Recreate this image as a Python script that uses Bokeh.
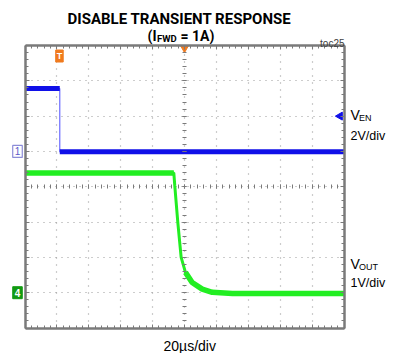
from bokeh.plotting import figure
from bokeh.models import Range1d, LinearAxis, FixedTicker, Label, Grid
from bokeh.embed import file_html
from bokeh.resources import INLINE

# ---------------- data (read from the scope shot) ----------------
en_time_us = [0, 21.8, 21.8, 200]
en_volts = [3.56, 3.56, -0.02, -0.02]

out_time_us = [0, 93.3, 93.9, 95.8, 97.9, 100.6, 104.8, 111.1, 117.4, 130, 200]
out_volts = [3.39, 3.39, 3.03, 1.99, 1.0, 0.575, 0.29, 0.10, 0.01, -0.02, -0.02]

time_per_div_us = 20
n_div_x = 10
n_div_y = 8
en_volts_per_div = 2
en_ground_div = 5
out_volts_per_div = 1
out_ground_div = 1
trigger_time_us = 21.6
trigger_level_v = 2.0
h_position_us = 100

BLUE = "#1010e8"
BLUE_EDGE = "#6a6aff"
GREEN = "#22ee22"
FRAME = "#7a7a7a"
GRID = "#9a9a9a"
ORANGE = "#f07a1e"
FONT = "Liberation Sans"
TITLE_FONT = "Roboto"

# ---------------- layout (page pixels) ----------------
W, H = 393, 353
GL, GR, GT, GB = 24.5, 343.5, 45.0, 327.5   # graticule edges

x_end = n_div_x * time_per_div_us
us_per_px = x_end / (GR - GL)
div_per_px = n_div_y / (GB - GT)

p = figure(width=W, height=H, output_backend="svg", toolbar_location=None,
           x_range=Range1d(-GL * us_per_px, x_end + (W - GR) * us_per_px),
           y_range=Range1d(-(H - GB) * div_per_px, n_div_y + GT * div_per_px),
           x_axis_type=None, y_axis_type=None,
           min_border=0, background_fill_color="white", border_fill_color="white")
p.outline_line_color = None
p.grid.visible = False


def div_range(g, vpd):
    return Range1d((p.y_range.start - g) * vpd, (p.y_range.end - g) * vpd)


p.extra_y_ranges = {"en": div_range(en_ground_div, en_volts_per_div),
                    "out": div_range(out_ground_div, out_volts_per_div)}

x_major = [i * time_per_div_us for i in range(n_div_x + 1)]
x_minor = [i * time_per_div_us / 5 for i in range(n_div_x * 5 + 1)]
y_major = list(range(n_div_y + 1))
y_minor = [i / 5 for i in range(n_div_y * 5 + 1)]

# dotted graticule
p.add_layout(Grid(dimension=0, ticker=FixedTicker(ticks=x_major[1:-1]), cross_bounds=(0, n_div_y),
                  grid_line_color=GRID, grid_line_width=1.2, grid_line_dash="1 6"))
p.add_layout(Grid(dimension=1, ticker=FixedTicker(ticks=y_major[1:-1]), cross_bounds=(0, x_end),
                  grid_line_color=GRID, grid_line_width=1.2, grid_line_dash="1 5"))


def make_axis(major, minor, loc, bounds, tin, tout, mtin, mtout, line=True):
    return LinearAxis(ticker=FixedTicker(ticks=major, minor_ticks=minor),
                      fixed_location=loc, bounds=bounds,
                      major_label_text_color=None, major_label_standoff=0,
                      major_tick_in=tin, major_tick_out=tout,
                      minor_tick_in=mtin, minor_tick_out=mtout,
                      major_tick_line_color=FRAME, minor_tick_line_color=FRAME,
                      major_tick_line_width=1, minor_tick_line_width=1,
                      axis_line_color=FRAME if line else None, axis_line_width=2.5)


xb, yb = (0, x_end), (0, n_div_y)
p.add_layout(make_axis(x_major, x_minor, 0, xb, 4, 0, 3, 0), "below")
p.add_layout(make_axis(x_major, x_minor, n_div_y, xb, 4, 0, 3, 0), "above")
p.add_layout(make_axis(y_major, y_minor, 0, yb, 4, 0, 3, 0), "left")
p.add_layout(make_axis(y_major, y_minor, x_end, yb, 4, 0, 3, 0), "right")
# centre cross with tick marks
p.add_layout(make_axis(y_major, y_minor, h_position_us, yb, 2, 2, 2, 2, line=False), "left")
p.add_layout(make_axis(x_major, x_minor, n_div_y / 2, xb, 2, 2, 2, 2, line=False), "below")

# ---------------- traces ----------------
p.line(en_time_us, en_volts, y_range_name="en", line_color=BLUE_EDGE, line_width=1.2)
p.multi_line([en_time_us[0:2], en_time_us[2:4]], [en_volts[0:2], en_volts[2:4]],
             y_range_name="en", line_color=BLUE, line_width=5)

p.line(out_time_us, out_volts, y_range_name="out", line_color=GREEN, line_width=3)
p.line(out_time_us[0:2], out_volts[0:2], y_range_name="out", line_color=GREEN, line_width=5.5)
p.line(out_time_us[5:], out_volts[5:], y_range_name="out", line_color=GREEN, line_width=5.5)

# trigger indicators
p.scatter([h_position_us], [n_div_y - 2.5 * div_per_px], marker="inverted_triangle", size=8,
          fill_color=ORANGE, line_color=ORANGE)
p.scatter([x_end - 4 * us_per_px], [trigger_level_v], y_range_name="en", marker="triangle",
          angle=1.5708, size=8, fill_color=BLUE, line_color=BLUE)
p.add_layout(Label(x=trigger_time_us, y=H - 55.5, y_units="screen", text="T",
                   text_font=FONT, text_font_size="9px", text_font_style="bold",
                   text_color="white", text_align="center", text_baseline="middle",
                   background_fill_color=ORANGE, border_line_color=ORANGE, padding=1))

# channel ground markers
p.add_layout(Label(x=17, x_units="screen", y=0, y_range_name="en", text="1",
                   text_font=FONT, text_font_size="10px", text_color="#5a5ac8",
                   text_align="center", text_baseline="middle",
                   background_fill_color="white", border_line_color="#8c8cd8",
                   border_line_width=1.2, padding=2))
p.add_layout(Label(x=17, x_units="screen", y=0, y_range_name="out", text="4",
                   text_font=FONT, text_font_size="10px", text_font_style="bold",
                   text_color="white", text_align="center", text_baseline="middle",
                   background_fill_color="#129a12", border_line_color="#129a12", padding=2))


def txt(x_page, y_page, s, size, align="left", style="normal", color="black", font=FONT):
    p.add_layout(Label(x=x_page, y=H - y_page, x_units="screen", y_units="screen",
                       text=s, text_font=font, text_font_size=size, text_font_style=style,
                       text_color=color, text_align=align, text_baseline="alphabetic"))


txt(179, 18.5, "DISABLE TRANSIENT RESPONSE", "15px", "center", "bold", font=TITLE_FONT)
txt(156, 35.5, "(I", "14px", "right", "bold", font=TITLE_FONT)
txt(156.5, 37.5, "FWD", "9.5px", "left", "bold", font=TITLE_FONT)
txt(180, 35.5, "= 1A)", "14px", "left", "bold", font=TITLE_FONT)
txt(344, 43, "toc25", "10px", "right", color="#404040")

txt(350, 114, "V", "14px")
txt(358.5, 117, "EN", "9px")
txt(350, 135, "2V/div", "12.5px")
txt(350, 263.5, "V", "14px")
txt(358.5, 266.5, "OUT", "9px")
txt(350, 282, "1V/div", "12.5px")
txt(163, 345, "20µs/div", "14px")

open("out.html", "w").write(file_html(p, INLINE))
